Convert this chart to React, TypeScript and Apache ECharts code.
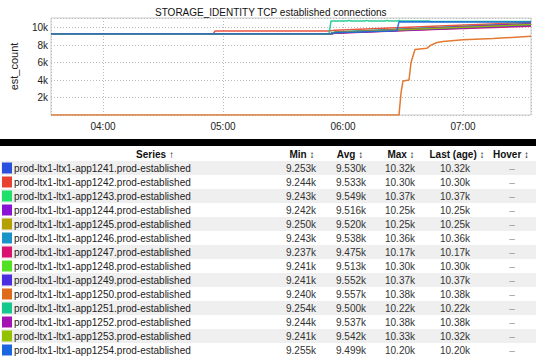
import React, { useEffect, useRef } from "react";
import * as echarts from "echarts";

const titleText = "STORAGE_IDENTITY TCP established connections";
const yAxisName = "est_count";
const xStart = "03:34";
const xEnd = "07:34";

const seriesNames = [
  "prod-ltx1-ltx1-app1241.prod-established",
  "prod-ltx1-ltx1-app1242.prod-established",
  "prod-ltx1-ltx1-app1243.prod-established",
  "prod-ltx1-ltx1-app1244.prod-established",
  "prod-ltx1-ltx1-app1245.prod-established",
  "prod-ltx1-ltx1-app1246.prod-established",
  "prod-ltx1-ltx1-app1247.prod-established",
  "prod-ltx1-ltx1-app1248.prod-established",
  "prod-ltx1-ltx1-app1249.prod-established",
  "prod-ltx1-ltx1-app1250.prod-established",
  "prod-ltx1-ltx1-app1251.prod-established",
  "prod-ltx1-ltx1-app1252.prod-established",
  "prod-ltx1-ltx1-app1253.prod-established",
  "prod-ltx1-ltx1-app1254.prod-established",
];

const seriesColors = [
  "#2a50e0", "#e8412f", "#1fe06a", "#8a12d4", "#b4a000", "#1894c8", "#d8126e",
  "#52e024", "#4a2ee0", "#e06a1c", "#12c88c", "#a412b4", "#92c200", "#1a66e0",
];

const headerLabels = ["Series \u2191", "Min \u2195", "Avg \u2195", "Max \u2195", "Last (age) \u2195", "Hover \u2195"];
const minLabels = ["9.253k", "9.244k", "9.243k", "9.242k", "9.250k", "9.243k", "9.237k", "9.241k", "9.241k", "9.240k", "9.254k", "9.244k", "9.241k", "9.255k"];
const avgLabels = ["9.530k", "9.533k", "9.549k", "9.516k", "9.520k", "9.538k", "9.475k", "9.513k", "9.552k", "9.557k", "9.500k", "9.537k", "9.542k", "9.499k"];
const maxLabels = ["10.32k", "10.30k", "10.37k", "10.25k", "10.25k", "10.36k", "10.17k", "10.30k", "10.37k", "10.38k", "10.22k", "10.38k", "10.33k", "10.20k"];
const lastLabels = ["10.32k", "10.30k", "10.37k", "10.25k", "10.25k", "10.36k", "10.17k", "10.30k", "10.37k", "10.38k", "10.22k", "10.38k", "10.32k", "10.20k"];
const hoverLabels = ["–", "–", "–", "–", "–", "–", "–", "–", "–", "–", "–", "–", "–", "–"];

// key points [time, value] for each series
const s1241 = [["03:34", 9253], ["05:53", 9253], ["05:56", 9450], ["06:45", 9900], ["07:34", 10350]];
const s1242 = [["03:34", 9244], ["04:55", 9244], ["04:56", 9600], ["05:53", 9600], ["05:56", 9700], ["06:45", 10150], ["07:34", 10600]];
const s1243 = [["03:34", 9243], ["05:53", 9243], ["05:56", 9500], ["06:45", 9980], ["07:34", 10480]];
const s1244 = [["03:34", 9242], ["05:53", 9242], ["05:56", 9380], ["06:45", 9820], ["07:34", 10250]];
const s1245 = [["03:34", 9250], ["05:53", 9250], ["05:56", 9420], ["06:45", 9900], ["07:34", 10320]];
const s1246 = [["03:34", 9243], ["05:53", 9243], ["05:56", 9480], ["06:45", 9950], ["07:34", 10420]];
const s1247 = [["03:34", 9237], ["05:53", 9237], ["05:56", 9350], ["06:45", 9780], ["07:34", 10150]];
const s1248 = [["03:34", 9241], ["05:53", 9241], ["05:56", 9450], ["06:45", 9920], ["07:34", 10380]];
const s1249 = [["03:34", 9241], ["05:53", 9241], ["05:56", 9400], ["06:45", 9850], ["07:34", 10280]];
const s1250 = [["03:34", 0], ["06:28", 0], ["06:29", 2500], ["06:30", 3900], ["06:33", 4000], ["06:34", 6000], ["06:36", 7500], ["06:42", 7650], ["06:44", 8000], ["06:47", 8300], ["06:50", 8400], ["07:00", 8600], ["07:15", 8750], ["07:34", 9000]];
const s1251 = [["03:34", 9254], ["05:53", 9254], ["05:54", 10750], ["06:02", 10760], ["06:03", 10830], ["06:04", 10750], ["06:11", 10760], ["06:12", 10830], ["06:13", 10750], ["06:21", 10760], ["06:22", 10830], ["06:23", 10750], ["06:27", 10760], ["06:28", 10830], ["06:29", 10750], ["06:43", 10750], ["06:44", 10690], ["07:34", 10700]];
const s1252 = [["03:34", 9244], ["05:53", 9244], ["05:56", 9450], ["06:45", 9950], ["07:34", 10450]];
const s1253 = [["03:34", 9241], ["05:53", 9241], ["05:56", 9430], ["06:45", 9900], ["07:34", 10350]];
const s1254 = [["03:34", 9255], ["05:53", 9255], ["05:56", 9400], ["06:27", 9650], ["06:28", 10680], ["07:34", 10650]];
const seriesPoints = [s1241, s1242, s1243, s1244, s1245, s1246, s1247, s1248, s1249, s1250, s1251, s1252, s1253, s1254];

const yMax = 11100;
const yInterval = 2000;

const toTs = (hm: string) => {
  const [h, m] = hm.split(":").map(Number);
  return new Date(2017, 5, 1, h, m, 0).getTime();
};
const pad = (n: number) => (n < 10 ? "0" + n : "" + n);

const FONT = '"Liberation Sans", Arial, Helvetica, sans-serif';

export default function App() {
  const ref = useRef<HTMLDivElement>(null);
  useEffect(() => {
    document.body.style.margin = "0";
    if (!ref.current) return;
    const chart = echarts.init(ref.current, null, { renderer: "svg" });

    const rowTop = 161;
    const rowH = 14;
    const colCenters = [301, 351, 400, 455, 512];
    const headerCenters = [155, 302, 350, 401, 457, 511];
    const graphics: any[] = [];
    graphics.push({ type: "rect", shape: { x: 0, y: 139, width: 536, height: 7 }, style: { fill: "#000" } });
    headerLabels.forEach((h, i) => {
      graphics.push({
        type: "text",
        style: { text: h, x: headerCenters[i], y: 154, font: `bold 10px ${FONT}`, fill: "#111", align: "center", verticalAlign: "middle", textAlign: "center", textVerticalAlign: "middle" },
      });
    });
    seriesNames.forEach((name, i) => {
      const y = rowTop + i * rowH;
      if (i % 2 === 0) {
        graphics.push({ type: "rect", shape: { x: 1, y, width: 535, height: rowH }, style: { fill: "#efefef" } });
      }
      graphics.push({ type: "rect", shape: { x: 2, y: y + 1.5, width: 10, height: 11 }, style: { fill: seriesColors[i] } });
      graphics.push({
        type: "text",
        style: { text: name, x: 14, y: y + 7, font: `10px ${FONT}`, fill: "#222", align: "left", verticalAlign: "middle", textAlign: "left", textVerticalAlign: "middle" },
      });
      const vals = [minLabels[i], avgLabels[i], maxLabels[i], lastLabels[i], hoverLabels[i]];
      vals.forEach((v, j) => {
        graphics.push({
          type: "text",
          style: { text: v, x: colCenters[j], y: y + 7, font: `10px ${FONT}`, fill: j === 4 ? "#999" : "#333", align: "center", verticalAlign: "middle", textAlign: "center", textVerticalAlign: "middle" },
        });
      });
    });

    chart.setOption({
      animation: false,
      backgroundColor: "#fff",
      title: {
        text: titleText,
        left: 150,
        top: 2,
        textStyle: { fontSize: 10, fontWeight: "normal", color: "#111", fontFamily: FONT },
      },
      grid: { left: 51, right: 5, top: 18, bottom: 242, show: true, borderColor: "#ccc", borderWidth: 1, containLabel: false },
      xAxis: {
        type: "time",
        min: toTs(xStart),
        max: toTs(xEnd),
        minInterval: 3600000,
        maxInterval: 3600000,
        axisLine: { show: false },
        axisTick: { show: false },
        axisLabel: {
          color: "#222",
          fontSize: 10,
          fontFamily: FONT,
          margin: 6,
          showMinLabel: false,
          showMaxLabel: false,
          formatter: (v: number) => {
            const d = new Date(v);
            return pad(d.getHours()) + ":" + pad(d.getMinutes());
          },
        },
        splitLine: { show: true, lineStyle: { type: [1, 2], color: "#bbb" } },
      },
      yAxis: {
        type: "value",
        min: 0,
        max: yMax,
        interval: yInterval,
        name: yAxisName,
        nameLocation: "middle",
        nameGap: 32,
        nameTextStyle: { color: "#222", fontSize: 11, fontFamily: FONT },
        axisLine: { show: false },
        axisTick: { show: false },
        axisLabel: {
          color: "#222",
          fontSize: 10,
          fontFamily: FONT,
          margin: 3,
          formatter: (v: number) => (v > 0 && v % yInterval === 0 ? v / 1000 + "k" : ""),
        },
        splitLine: { show: true, lineStyle: { type: [1, 2], color: "#bbb" } },
      },
      series: seriesPoints.map((pts, i) => ({
        name: seriesNames[i],
        type: "line",
        showSymbol: false,
        symbol: "none",
        data: pts.map((p) => [toTs(p[0] as string), p[1]]),
        lineStyle: { width: 1.5, color: seriesColors[i], opacity: 0.9 },
        itemStyle: { color: seriesColors[i] },
      })),
      graphic: graphics,
    });
    return () => chart.dispose();
  }, []);
  return <div ref={ref} style={{ position: "absolute", left: 0, top: 0, width: 536, height: 357 }} />;
}
